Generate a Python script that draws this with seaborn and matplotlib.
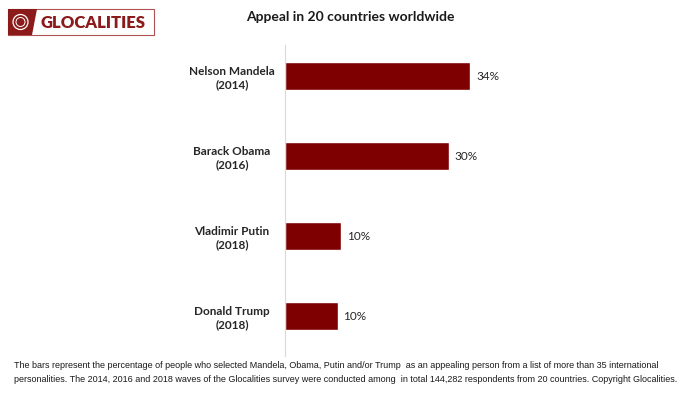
import matplotlib
matplotlib.use("Agg")
import matplotlib.pyplot as plt
import matplotlib.patches as mpatches
import seaborn as sns
import pandas as pd

# Data
people = ["Nelson Mandela\n(2014)", "Barack Obama\n(2016)",
          "Vladimir Putin\n(2018)", "Donald Trump\n(2018)"]
appeal = [34, 30, 10.3, 9.7]
value_labels = ["34%", "30%", "10%", "10%"]

df = pd.DataFrame({"person": people, "appeal": appeal})

sns.set_theme(style="white")
plt.rcParams["font.family"] = ["Lato", "DejaVu Sans"]

W, H = 700, 393
fig = plt.figure(figsize=(W / 100, H / 100), dpi=100)

# axes placed in pixel terms: left spine at x=284.5, y from 45 to 356
ax = fig.add_axes([284.5 / W, 1 - 356 / H, 328 / W, 311 / H])
sns.barplot(data=df, y="person", x="appeal", color="#7f0000",
            width=0.35, saturation=1, ax=ax, orient="h")
ax.set_xlim(0, 60)
ax.set_ylim(3.5, -0.39)
ax.set_xlabel("")
ax.set_ylabel("")
ax.set_xticks([])
for s in ["top", "right", "bottom"]:
    ax.spines[s].set_visible(False)
ax.spines["left"].set_color("#d9d9d9")
ax.spines["left"].set_linewidth(0.8)
ax.tick_params(axis="y", length=0, pad=10)
for lbl in ax.get_yticklabels():
    lbl.set_fontweight("bold")
    lbl.set_fontsize(8.5)
    lbl.set_color("#262626")
    lbl.set_horizontalalignment("center")
    lbl.set_x(-0.118)

for bar, txt in zip(ax.patches, value_labels):
    ax.text(bar.get_width() + 1.1, bar.get_y() + bar.get_height() / 2, txt,
            va="center", ha="left", fontsize=8.5, color="#262626")

fig.text(350 / W, 1 - 17 / H, "Appeal in 20 countries worldwide",
         ha="center", va="center", fontsize=10, fontweight="bold", color="#1a1a1a")

# Glocalities logo
logo_red = "#8b1a1a"
fig.patches.append(mpatches.Rectangle((8 / W, 1 - 35 / H), 146 / W, 26 / H,
                                      transform=fig.transFigure, fill=False,
                                      edgecolor="#b05050", linewidth=0.8))
fig.patches.append(mpatches.Polygon([(8 / W, 1 - 9 / H), (37 / W, 1 - 9 / H),
                                     (32 / W, 1 - 35 / H), (8 / W, 1 - 35 / H)],
                                    closed=True, transform=fig.transFigure,
                                    facecolor=logo_red, edgecolor="none"))
fig.patches.append(mpatches.Ellipse((20.5 / W, 1 - 22 / H), 15 / W, 15 / H,
                                    transform=fig.transFigure, fill=False,
                                    edgecolor="white", linewidth=0.9))
fig.patches.append(mpatches.Ellipse((20.5 / W, 1 - 22 / H), 9 / W, 9 / H,
                                    transform=fig.transFigure, fill=False,
                                    edgecolor="white", linewidth=0.7))
fig.text(93 / W, 1 - 22.5 / H, "GLOCALITIES", ha="center", va="center",
         fontsize=12, fontweight="heavy", color=logo_red)

note_font = ["Liberation Sans Narrow", "Liberation Sans", "DejaVu Sans"]
fig.text(14 / W, 1 - 366 / H,
         "The bars represent the percentage of people who selected Mandela, Obama, Putin and/or Trump  "
         "as an appealing person from a list of more than 35 international",
         ha="left", va="center", fontsize=6.5, family=note_font, color="#1a1a1a")
fig.text(14 / W, 1 - 380 / H,
         "personalities. The 2014, 2016 and 2018 waves of the Glocalities survey were conducted among  "
         "in total 144,282 respondents from 20 countries. Copyright Glocalities.",
         ha="left", va="center", fontsize=6.5, family=note_font, color="#1a1a1a")

fig.savefig("out.png", dpi=100)
